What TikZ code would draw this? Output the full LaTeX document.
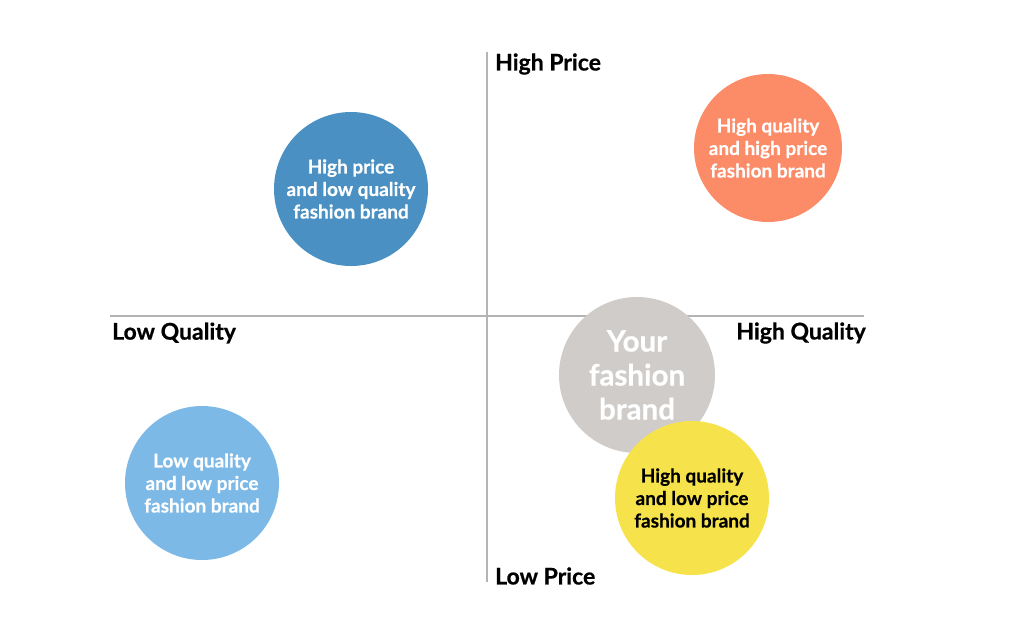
\documentclass[tikz,border=0pt]{standalone}
\usepackage{fontspec}
\setmainfont{Lato}[BoldFeatures={FakeBold=0.6}]
\definecolor{axisgrey}{HTML}{B4B4B4}
\definecolor{darkblue}{HTML}{4A90C2}
\definecolor{lightblue}{HTML}{7CB9E6}
\definecolor{coral}{HTML}{FC8B68}
\definecolor{stone}{HTML}{D0CCC9}
\definecolor{sun}{HTML}{F6E24A}
\begin{document}
\begin{tikzpicture}[x=1pt,y=-1pt,
  axis/.style={draw=axisgrey,line width=2.5pt},
  bubble/.style={circle,minimum size=154pt,inner sep=0pt,align=center,font=\bfseries\fontsize{19}{22.5}\selectfont,text=white},
  axlabel/.style={font=\bfseries\fontsize{23}{26}\selectfont,text=black,inner sep=0pt}]
\useasboundingbox (0,0) rectangle (1024,635);
\coordinate (top) at (487,52);
\coordinate (bot) at (487,582);
\coordinate (left) at (110,316);
\coordinate (right) at (864,316);
\draw[axis] (top) -- (bot);
\draw[axis] (left) -- (right);
\node[axlabel,anchor=west] (hp) at (495,64) {High Price};
\node[axlabel,anchor=west] (lp) at (495,576) {Low Price};
\node[axlabel,anchor=west] (lq) at (112,333) {Low Quality};
\node[axlabel,anchor=east] (hq) at (866,333) {High Quality};
\node[bubble,fill=darkblue] (hplq) at (351,189) {High price\\and low quality\\fashion brand};
\node[bubble,fill=coral,minimum size=148pt] (hqhp) at (768,148) {High quality\\and high price\\fashion brand};
\node[bubble,fill=lightblue] (lqlp) at (202,483) {Low quality\\and low price\\fashion brand};
\node[bubble,fill=stone,minimum size=156pt,font=\bfseries\fontsize{29.5}{34}\selectfont] (you) at (637,375) {Your\\fashion\\brand};
\node[bubble,fill=sun,text=black] (hqlp) at (692,498) {High quality\\and low price\\fashion brand};
\end{tikzpicture}
\end{document}
